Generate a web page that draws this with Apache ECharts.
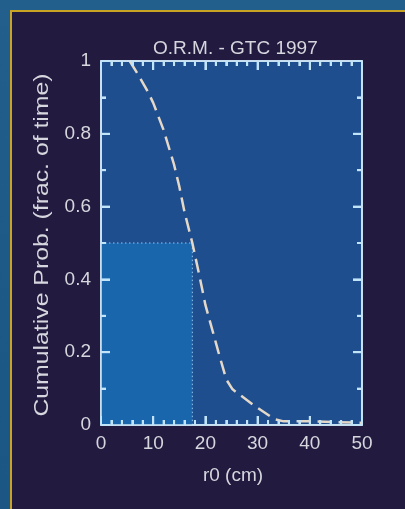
<!DOCTYPE html>
<html>
<head>
<meta charset="utf-8">
<script src="https://cdn.jsdelivr.net/npm/echarts@6/dist/echarts.min.js"></script>
<style>
  html, body { margin: 0; padding: 0; width: 405px; height: 509px; overflow: hidden;
    background: linear-gradient(180deg, #235f8c 0%, #1d5a88 50%, #1b5684 100%); }
  #panel { position: absolute; left: 10px; top: 10px; width: 395px; height: 499px;
    background: #221a3f; border-left: 2px solid #c9a324; border-top: 2px solid #c9a324; box-sizing: border-box; }
  #chart { position: absolute; left: 0; top: 0; width: 405px; height: 509px; }
</style>
</head>
<body>
<div id="panel"></div>
<div id="chart"></div>
<script>
const titleText = 'O.R.M. - GTC 1997';
const xName = 'r0 (cm)';
const yName = 'Cumulative Prob. (frac. of time)';
const r0 = [5.5, 7, 9, 10, 12, 14, 15, 16, 17.5, 19, 20, 21, 22.5, 24, 25.2, 29, 33.2, 35, 40, 45, 50];
const prob = [1.0, 0.965, 0.915, 0.885, 0.81, 0.715, 0.655, 0.585, 0.5, 0.4, 0.33, 0.278, 0.2, 0.125, 0.098, 0.057, 0.016, 0.01, 0.01, 0.008, 0.006];
const medianR0 = 17.5;
const medianProb = 0.5;
const xTickValues = [0, 2, 4, 6, 8, 10, 12, 14, 16, 18, 20, 22, 24, 26, 28, 30, 32, 34, 36, 38, 40, 42, 44, 46, 48, 50];
const xMajorTicks = [0, 10, 20, 30, 40, 50];
const yTickValues = [0, 0.1, 0.2, 0.3, 0.4, 0.5, 0.6, 0.7, 0.8, 0.9, 1];
const yMajorTicks = [0, 0.2, 0.4, 0.6, 0.8, 1];

const curve = r0.map((x, i) => [x, prob[i]]);
const tickColor = '#c2e4f8';
const textColor = '#d6d6de';
const FONT = 'Liberation Sans';
const xMin = 0, xMax = 50, yMin = 0, yMax = 1;

const chart = echarts.init(document.getElementById('chart'));
function axis(extra, split) {
  return Object.assign({
    z: 10,
    axisLine: { show: true, onZero: false, lineStyle: { color: '#d4ecfa', width: 1.5 } },
    axisTick: { show: true, inside: true, length: 9, lineStyle: { color: tickColor, width: 2 } },
    minorTick: { show: true, splitNumber: split, length: 5, lineStyle: { color: tickColor, width: 2 } },
    splitLine: { show: false }
  }, extra);
}
function isMajor(list, v) { return list.some(m => Math.abs(m - v) < 1e-9) ? 1 : 0; }

chart.setOption({
  animation: false,
  title: {
    text: titleText, left: 148, top: 34,
    textStyle: { color: textColor, fontSize: 19, fontWeight: 'normal', fontFamily: FONT }
  },
  grid: { left: 101, top: 61, right: 43, bottom: 84, show: true, backgroundColor: '#1f4e8e', borderColor: '#d4ecfa', borderWidth: 1.5 },
  xAxis: [
    axis({
      type: 'value', min: xMin, max: xMax, interval: 10, position: 'bottom',
      axisLabel: { color: textColor, fontSize: 19, margin: 9, fontFamily: FONT }
    }, 5),
    axis({ type: 'value', min: xMin, max: xMax, interval: 10, position: 'top', axisLabel: { show: false } }, 5)
  ],
  yAxis: [
    axis({
      type: 'value', min: yMin, max: yMax, interval: 0.2, position: 'left',
      axisLabel: { color: textColor, fontSize: 19, margin: 10, fontFamily: FONT }
    }, 2),
    axis({ type: 'value', min: yMin, max: yMax, interval: 0.2, position: 'right', axisLabel: { show: false } }, 2)
  ],
  graphic: [
    {
      type: 'text', x: 42, y: 245, rotation: Math.PI / 2, scaleX: 1.24, scaleY: 1,
      style: { text: yName, fill: textColor, font: '20px "Liberation Sans"', align: 'center', verticalAlign: 'middle' }
    },
    {
      type: 'text', x: 233, y: 476,
      style: { text: xName, fill: textColor, font: '19px "Liberation Sans"', align: 'center', verticalAlign: 'middle' }
    }
  ],
  series: [
    {
      type: 'line', xAxisIndex: 0, yAxisIndex: 0, symbol: 'none', silent: true, z: 2,
      data: [[0, medianProb], [medianR0, medianProb], [medianR0, 0]],
      lineStyle: { color: '#8fc4ee', width: 1, type: [1.5, 2.5] },
      markArea: {
        silent: true,
        itemStyle: { color: '#1a66ad' },
        data: [[{ coord: [0, 0] }, { coord: [medianR0, medianProb] }]]
      }
    },
    {
      type: 'line', xAxisIndex: 0, yAxisIndex: 0, symbol: 'none', silent: true,
      data: curve, z: 5,
      lineStyle: { color: '#e4d8c8', width: 2.5, type: [14, 7] }
    },
    {
      type: 'custom', xAxisIndex: 0, yAxisIndex: 0, silent: true, z: 20, clip: false,
      data: xTickValues.map(v => [v, isMajor(xMajorTicks, v)]),
      renderItem: function (params, api) {
        const v = api.value(0);
        const len = api.value(1) ? 9 : 5;
        const b = api.coord([v, yMin]);
        const t = api.coord([v, yMax]);
        const st = { stroke: tickColor, lineWidth: 2 };
        return { type: 'group', children: [
          { type: 'line', shape: { x1: b[0], y1: b[1], x2: b[0], y2: b[1] - len }, style: st },
          { type: 'line', shape: { x1: t[0], y1: t[1], x2: t[0], y2: t[1] + len }, style: st }
        ] };
      }
    },
    {
      type: 'custom', xAxisIndex: 0, yAxisIndex: 0, silent: true, z: 20, clip: false,
      data: yTickValues.map(v => [v, isMajor(yMajorTicks, v)]),
      renderItem: function (params, api) {
        const v = api.value(0);
        const len = api.value(1) ? 9 : 5;
        const l = api.coord([xMin, v]);
        const r = api.coord([xMax, v]);
        const st = { stroke: tickColor, lineWidth: 2 };
        return { type: 'group', children: [
          { type: 'line', shape: { x1: l[0], y1: l[1], x2: l[0] + len, y2: l[1] }, style: st },
          { type: 'line', shape: { x1: r[0], y1: r[1], x2: r[0] - len, y2: r[1] }, style: st }
        ] };
      }
    }
  ]
});
</script>
</body>
</html>
